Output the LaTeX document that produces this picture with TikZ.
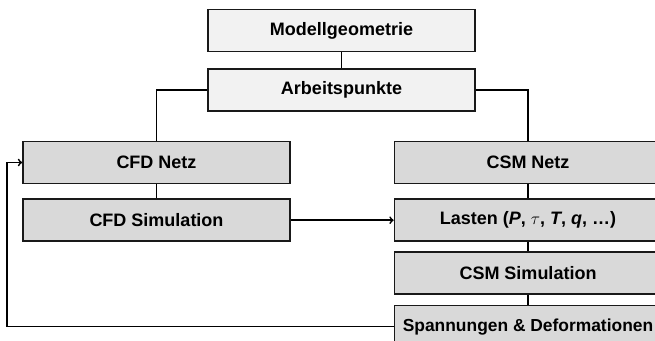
\documentclass[tikz,border=0pt]{standalone}
\usepackage{fontspec}
\setmainfont{Liberation Sans}
\usetikzlibrary{arrows,positioning}

\begin{document}
\begin{tikzpicture}[x=1pt,y=-1pt,->,>=to,line width=1.7pt]
  \tikzstyle{light}=[rectangle,draw=black!90,fill=gray!10,minimum width=267pt,
                     minimum height=42pt,inner sep=0pt,
                     font=\fontsize{18}{21}\selectfont\bfseries]
  \tikzstyle{dark}=[light,fill=gray!30]

  \clip (0,0) rectangle (655,340);

  \node[light] (geo)   at (341.5,30.5)            {Modellgeometrie};
  \node[light] (ap)    [below=16pt of geo]        {Arbeitspunkte};
  \node[dark] (cfdnetz) at (156.5,162.5)          {CFD Netz};
  \node[dark] (cfdsim) [below=14pt of cfdnetz]    {CFD Simulation};
  \node[dark] (csmnetz) at (528,162.5)            {CSM Netz};
  \node[dark] (lasten) [below=14pt of csmnetz]
        {Lasten (\textit{P}, $\tau$, \textit{T}, \textit{q}, \dots)};
  \node[dark] (csmsim) [below=9pt of lasten]      {CSM Simulation};
  \node[dark,font=\fontsize{17.4}{21}\selectfont\bfseries] (spann)
        [below=10pt of csmsim]                    {Spannungen \& Deformationen};
  \coordinate (ret) at (7,0);

  \draw[-] (geo) -- (ap);
  \draw[-] (ap.west) -| (cfdnetz.north);
  \draw[-] (ap.east) -| (csmnetz.north);
  \draw[-] (cfdnetz) -- (cfdsim);
  \draw[-] (csmnetz) -- (lasten);
  \draw[-] (lasten) -- (csmsim);
  \draw[-] (csmsim) -- (spann);
  \draw (cfdsim) -- (lasten);
  \draw (spann.west) -- (spann.west -| ret) |- (cfdnetz.west);

\end{tikzpicture}
\end{document}
